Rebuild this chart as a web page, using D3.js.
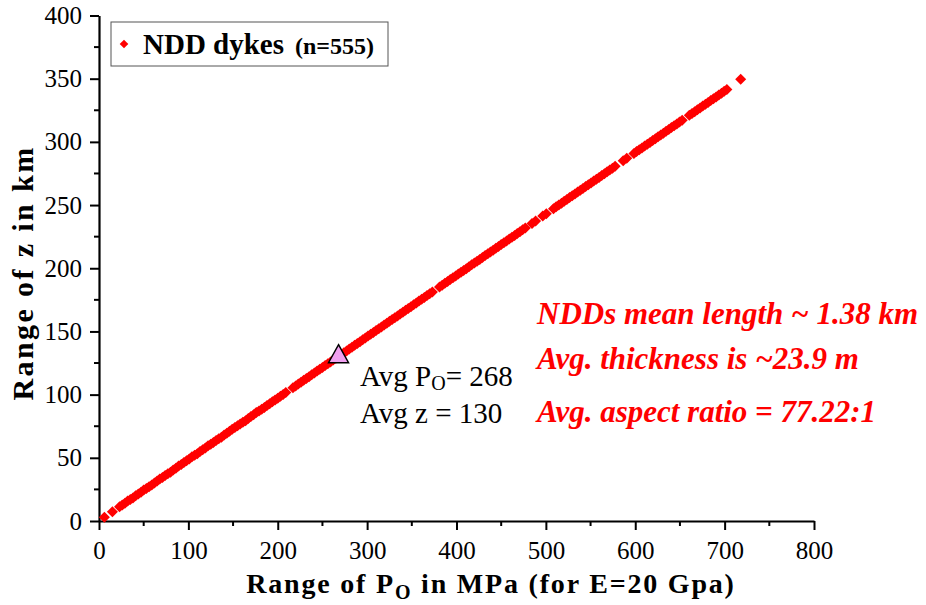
<!DOCTYPE html>
<html>
<head>
<meta charset="utf-8">
<script src="https://cdn.jsdelivr.net/npm/d3@7"></script>
<style>
  body { margin: 0; background: #fff; }
  svg, svg text { font-family: "Liberation Serif", "Times New Roman", Times, "DejaVu Serif", serif; }
</style>
</head>
<body>
<svg id="chart" width="926" height="605"></svg>
<script>
// dykes: [P0 in MPa, z in km]
var dykes = [
  [6,2.9],[15,7.3],
  [23,11.2],[26,12.6],[29,14.1],[32,15.9],[35,17.0],[38,18.2],[41,19.9],[44,21.4],[47,22.8],[50,24.6],
  [53,25.8],[56,27.2],[59,28.4],[62,30.1],[65,31.6],[68,33.3],[71,34.5],[74,36.0],[77,37.4],[80,38.6],
  [83,40.3],[86,41.8],[89,43.6],[92,44.7],[95,46.2],[98,47.6],[101,49.1],[104,50.9],[107,52.0],[110,53.2],
  [113,54.9],[116,56.4],[119,57.8],[122,59.6],[125,60.8],[128,62.2],[131,63.7],[134,65.1],[137,66.3],[140,68.0],
  [143,69.5],[146,71.0],[149,72.7],[152,73.9],[155,75.3],[158,76.8],[161,78.2],[164,79.4],[167,81.2],[170,82.6],
  [173,84.1],[176,85.8],[179,87.0],[182,88.5],[185,89.9],[188,91.4],[191,92.8],[194,94.3],[197,95.7],[200,97.2],
  [203,98.7],[206,100.1],[209,101.6],
  [217,105.5],[220,106.9],[223,108.4],[226,109.8],[229,111.3],[232,112.8],[235,114.2],[238,115.7],[241,117.1],
  [244,118.6],[247,120.0],[250,121.5],[253,123.0],[256,124.4],[259,125.9],[262,127.3],[265,128.8],[268,130.2],
  [271,131.7],[274,133.2],[277,134.6],[280,136.1],[283,137.5],[286,139.0],[289,140.5],[292,141.9],[295,143.4],
  [298,144.8],[301,146.3],[304,147.7],[307,149.2],[310,150.7],[313,152.1],[316,153.6],[319,155.0],[322,156.5],
  [325,158.0],[328,159.4],[331,160.9],[334,162.3],[337,163.8],[340,165.2],[343,166.7],[346,168.2],[349,169.6],
  [352,171.1],[355,172.5],[358,174.0],[361,175.4],[364,176.9],[367,178.4],[370,179.8],[373,181.3],
  [381,185.2],[384,186.6],[387,188.1],[390,189.5],[393,191.0],[396,192.5],[399,193.9],[402,195.4],[405,196.8],
  [408,198.3],[411,199.7],[414,201.2],[417,202.7],[420,204.1],[423,205.6],[426,207.0],[429,208.5],[432,210.0],
  [435,211.4],[438,212.9],[441,214.3],[444,215.8],[447,217.2],[450,218.7],[453,220.2],[456,221.6],[459,223.1],
  [462,224.5],[465,226.0],[468,227.4],[471,228.9],[474,230.4],[477,231.8],
  [484.5,235.5],[488.5,237.4],
  [496.5,241.3],[500.5,243.2],
  [508.5,247.1],[511.5,248.6],[514.5,250.0],[517.5,251.5],[520.5,253.0],[523.5,254.4],[526.5,255.9],[529.5,257.3],
  [532.5,258.8],[535.5,260.3],[538.5,261.7],[541.5,263.2],[544.5,264.6],[547.5,266.1],[550.5,267.5],[553.5,269.0],
  [556.5,270.5],[559.5,271.9],[562.5,273.4],[565.5,274.8],[568.5,276.3],[571.5,277.7],[574.5,279.2],[577.5,280.7],
  [586.5,285.0],[590.5,287.0],
  [598.5,290.9],[601.5,292.3],[604.5,293.8],[607.5,295.2],[610.5,296.7],[613.5,298.2],[616.5,299.6],[619.5,301.1],
  [622.5,302.5],[625.5,304.0],[628.5,305.4],[631.5,306.9],[634.5,308.4],[637.5,309.8],[640.5,311.3],[643.5,312.7],
  [646.5,314.2],[649.5,315.7],[652.5,317.1],
  [660.5,321.0],[663.5,322.5],[666.5,323.9],[669.5,325.4],[672.5,326.8],[675.5,328.3],[678.5,329.8],[681.5,331.2],
  [684.5,332.7],[687.5,334.1],[690.5,335.6],[693.5,337.0],[696.5,338.5],[699.5,340.0],[702.5,341.4],
  [718,349.5]
];
var average = [268, 130];
var xTicks = [0, 100, 200, 300, 400, 500, 600, 700, 800];
var yTicks = [0, 50, 100, 150, 200, 250, 300, 350, 400];
var notes = ['NDDs mean length ~ 1.38 km', 'Avg. thickness is ~23.9 m', 'Avg. aspect ratio = 77.22:1'];

var SERIF = '"Liberation Serif", "Times New Roman", Times, "DejaVu Serif", serif';
var svg = d3.select('#chart').attr('font-family', SERIF);
var x = d3.scaleLinear().domain([0, 800]).range([99, 814]);
var y = d3.scaleLinear().domain([0, 400]).range([521, 15.5]);

function diamond(r){
    return 'M0,' + (-r) + 'L' + r + ',0L0,' + r + 'L' + (-r) + ',0Z';
}

// minor ticks
var xMinor = d3.range(50, 800, 100), yMinor = d3.range(25, 400, 50);
svg.append('g').selectAll('line').data(xMinor).enter().append('line')
    .attr('x1', function(d){ return x(d); }).attr('x2', function(d){ return x(d); })
    .attr('y1', 521).attr('y2', 526)
    .attr('stroke', '#000').attr('stroke-width', 2);
svg.append('g').selectAll('line').data(yMinor).enter().append('line')
    .attr('y1', function(d){ return y(d); }).attr('y2', function(d){ return y(d); })
    .attr('x1', 99).attr('x2', 94)
    .attr('stroke', '#000').attr('stroke-width', 2);

var xAxis = svg.append('g')
    .attr('transform', 'translate(0,521)')
    .call(d3.axisBottom(x).tickValues(xTicks).tickSize(9).tickSizeOuter(0).tickPadding(11));
var yAxis = svg.append('g')
    .attr('transform', 'translate(99,0)')
    .call(d3.axisLeft(y).tickValues(yTicks).tickSize(9).tickSizeOuter(0).tickPadding(8));
[xAxis, yAxis].forEach(function(a){
    a.attr('font-family', SERIF).attr('font-size', 25);
    a.select('.domain').attr('stroke-width', 2.2);
    a.selectAll('.tick line').attr('stroke-width', 2);
    a.selectAll('.tick text').attr('fill', '#000');
});

// points
svg.append('g').selectAll('path').data(dykes).enter().append('path')
    .attr('d', diamond(5.5))
    .attr('transform', function(d){ return 'translate(' + x(d[0]) + ',' + y(d[1]) + ')'; })
    .attr('fill', '#ff0000');

// average marker
svg.append('path')
    .attr('d', 'M0,-11L10,7L-10,7Z')
    .attr('transform', 'translate(' + x(average[0]) + ',' + (y(average[1]) - 1) + ')')
    .attr('fill', '#f0a0f0')
    .attr('stroke', '#000')
    .attr('stroke-width', 1.5);

var avgTxt = svg.append('text')
    .attr('x', 360).attr('y', 386)
    .attr('font-size', 29).attr('fill', '#000');
avgTxt.append('tspan').text('Avg P');
avgTxt.append('tspan').attr('font-size', 20).attr('dy', 4).text('O');
avgTxt.append('tspan').attr('dy', -4).text('= ' + average[0]);
svg.append('text')
    .attr('x', 360).attr('y', 423)
    .attr('font-size', 29).attr('fill', '#000')
    .text('Avg z = ' + average[1]);

// red notes
svg.append('g').selectAll('text').data(notes).enter().append('text')
    .attr('x', 537)
    .attr('y', function(d, i){ return [324, 369, 422][i]; })
    .attr('font-size', 31)
    .attr('font-weight', 'bold')
    .attr('font-style', 'italic')
    .attr('fill', '#ff0000')
    .text(function(d){ return d; });

// legend
svg.append('rect')
    .attr('x', 111).attr('y', 22).attr('width', 277).attr('height', 44)
    .attr('fill', '#fff').attr('stroke', '#555').attr('stroke-width', 1);
svg.append('path')
    .attr('d', diamond(4.3))
    .attr('transform', 'translate(124,44)')
    .attr('fill', '#ff0000');
svg.append('text')
    .attr('x', 143).attr('y', 54)
    .attr('font-weight', 'bold').attr('font-size', 29).attr('fill', '#000')
    .text('NDD dykes');
svg.append('text')
    .attr('x', 295).attr('y', 54)
    .attr('font-weight', 'bold').attr('font-size', 24).attr('fill', '#000')
    .text('(n=555)');

// axis titles
var xt = svg.append('text')
    .attr('x', 491).attr('y', 593)
    .attr('text-anchor', 'middle')
    .attr('font-size', 28).attr('font-weight', 'bold').attr('fill', '#000')
    .attr('letter-spacing', 1.8);
xt.append('tspan').text('Range of P');
xt.append('tspan').attr('font-size', 20).attr('dy', 6).text('O');
xt.append('tspan').attr('dy', -6).text(' in MPa (for E=20 Gpa)');

svg.append('text')
    .attr('transform', 'translate(33,273) rotate(-90)')
    .attr('text-anchor', 'middle')
    .attr('font-size', 30).attr('font-weight', 'bold').attr('fill', '#000')
    .attr('letter-spacing', 2.4)
    .text('Range of z in km');
</script>
</body>
</html>
